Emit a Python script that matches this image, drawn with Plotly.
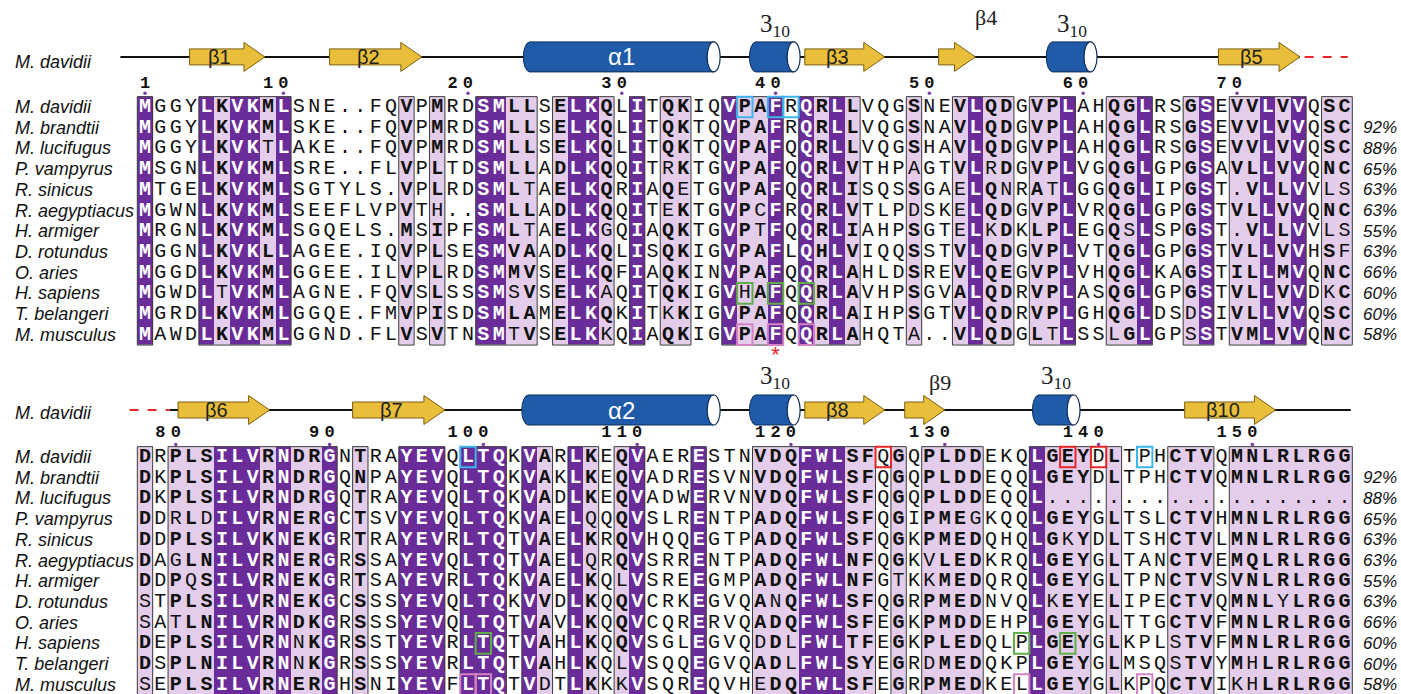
import plotly.graph_objects as go
from collections import Counter

# ---------------------------------------------------------------- data
species = ["M. davidii", "M. brandtii", "M. lucifugus", "P. vampyrus", "R. sinicus",
           "R. aegyptiacus", "H. armiger", "D. rotundus", "O. aries", "H. sapiens",
           "T. belangeri", "M. musculus"]
identity = ["", "92%", "88%", "65%", "63%", "63%", "55%", "63%", "66%", "60%", "60%", "58%"]

block1_seqs = [
    "MGGYLKVKMLSNE..FQVPMRD" + "SMLLSELKQLITQKIQVPAFRQRLLVQGS" + "NEVLQDGVPLAHQGLRSGSEVVLVVQSC",
    "MGGYLKVKMLSKE..FQVPMRD" + "SMLLSELKQLITQKTQVPAFRQRLLVQGS" + "NAVLQDGVPLAHQGLRSGSEVVLVVQSC",
    "MGGYLKVKTLAKE..FQVPMRD" + "SMLLSELKQLITQKTQVPAFQQRLLVQGS" + "HAVLQDGVPLAHQGLRSGSEVVLVVQSC",
    "MSGNLKVKMLSRE..FLVPLTD" + "SMLLADLKQQITRKTGVPAFQQRLVTHPA" + "GTVLRDGVPLVGQGLGPGSAVLLVVQNC",
    "MTGELKVKMLSGTYLS.VPLRD" + "SMLTAELKQRIAQETGVPAFQQRLISQSS" + "GAELQNRATLGGQGLIPGST.VLLVVLS",
    "MGWNLKVKMLSEEFLVPVTH.." + "SMLLADLKQQITEKTGVPCFRQRLVTLPD" + "SKELQDGVPLVRQGLGPGSTVLLVVQNC",
    "MRGNLKVKMLSGQELS.MSIPF" + "SMLTAELKGQIAQKTGVPTFQQRLIAHPS" + "GTELKDKLPLEGQSLSPGST.VLLVVLS",
    "MGGNLKVKLLAGEE.IQVPLSE" + "SMVAADLKQLISQKIGVPAFLQHLVIQQS" + "STVLQDGVPLVTQGLGPGSTVLLVVHSF",
    "MGGDLKVKMLGGEE.ILVPLRD" + "SMMVSELKQFIAQKINVPAFQQRLAHLDS" + "REVLQEGVPLVHQGLKAGSTILLMVQNC",
    "MGWDLTVKMLAGNE.FQVSLSS" + "SMSVSELKAQITQKIGVHAFQQRLAVHPS" + "GVALQDRVPLASQGLGPGSTVLLVVDKC",
    "MGRDLKVKMLGGQE.FMVPISD" + "SMLAMELKQKITKKIGVPAFQQRLAIHPS" + "GTVLQDRVPLGHQGLDSDSIVLLVVQSC",
    "MAWDLKVKMLGGND.FLVSVTN" + "SMTVSELKKQIAQKIGVPAFQQRLAHQTA" + "..VLQDGLTLSSLGLGPSSTVMLVVQNC",
]
block2_seqs = [
    "DRPLSILVRNDRGNTRAYEVQL" + "TQKVARLKEQVAERESTNVDQFWLSFQGQ" + "PLDDEKQLGEYDLTPHCTVQMNLRLRGG",
    "DKPLSILVRNDRGQNPAYEVQL" + "TQKVAKLKEQVADRESVNVDQFWLSFQGQ" + "PLDDEQQLGEYDLTPHCTVQMNLRLRGG",
    "DKPLSILVRNDRGQTRAYEVQL" + "TQKVADLKEQVADWERVNVDQFWLSFQGQ" + "PLDDEQQL....................",
    "DDRLDILVRNERGCTSVYEVQL" + "TQKVAELQQQVSLRENTPADQFWLSFQGI" + "PMEGKQQLGEYGLTSLCTVHMNLRLRGG",
    "DDPLSILVKNEKGRTRAYEVRL" + "TQTVAELKRQVHQQEGTPADQFWLSFQGK" + "PMEDQHQLGKYDLTSHCTVLMNLRLRGG",
    "DAGLNILVRNERGRSSAYEVQL" + "TQTVAELQRQVSRRENTPADQFWLNFQGK" + "VLEDKRQLGEYGLTANCTVEMQLRLRGG",
    "DDPQSILVRNEKGRTSAYEVRL" + "TQKVAELKQLVSREEGMPADQFWLNFGTK" + "KMEDQRQLGEYGLTPNCTVSVNLRLRGG",
    "STPLSILVRNEKGCSSSYEVQL" + "TQKVVDLKQQVCRKEGVQANQFWLSFQGR" + "PMEDNVQLKEYELIPECTVQMNLYLRGG",
    "SATLNILVRNDKGRSSSYEVQL" + "TQTVAVLKQQVCQRERVQADQFWLSFEGK" + "PMDDEHPLGEYGLTTGCTVFMNLRLRGG",
    "DEPLSILVRNNKGRSSTYEVRL" + "TQTVAHLKQQVSGLEGVQDDLFWLTFEGK" + "PLEDQLPLGEYGLKPLSTVFMNLRLRGG",
    "DSPLNILVRNNKGRSSSYEVRL" + "TQTVAHLKQLVSQQEGVQADLFWLSYEGR" + "DMEDQKPLGEYGLMSQSTVYMHLRLRGG",
    "SEPLSILVRNERGHSNIYEVFL" + "TQTVDTLKKKVSQREQVHEDQFWLSFEGR" + "PMEDKELLGEYGLKPQCTVIKHLRLRGG",
]
# column shading: d = strictly conserved, l = similar, w = not conserved
block1_types = ("dwwwdlddld" "wwwwwwwlwl" "wwddllwldd" "lwdwllwwdl"
                "ldwdldlwww" "lwwldllwll" "dwwlldwwld" "wlldldwll")
block2_types = ("lwllldddld" "lldwlwwddd" "wdddwdlwdl" "wldwwwdwww"
                "llldddllwl" "wllllwwwdl" "llwlwwwlll" "wllllllll")
block1_ticks = [1, 10, 20, 30, 40, 50, 60, 70]
block2_ticks = [80, 90, 100, 110, 120, 130, 140, 150]
# highlighted residues: (row, column, colour key)
block1_boxes = [(1, 40, "cyan"), (1, 42, "cyan"), (1, 43, "cyan"),
                (10, 40, "green"), (10, 42, "green"), (10, 44, "green"),
                (12, 40, "pink"), (12, 42, "pink"), (12, 44, "pink")]
block2_boxes = [(1, 22, "cyan"), (1, 49, "red"), (1, 61, "red"), (1, 63, "red"), (1, 66, "cyan"),
                (10, 23, "green"), (10, 58, "green"), (10, 61, "green"),
                (12, 22, "pink"), (12, 23, "pink"), (12, 58, "pink"), (12, 66, "pink")]
block1_stars = [42]
block2_stars = []
# secondary structure of M. davidii (in alignment-column units)
ss1 = dict(line=[(-0.6, 76.1)], dash=[(76.4, 79.2)],
           strands=[("β1", 3.9, 8.8), ("β2", 13.0, 19.0), ("β3", 43.9, 49.1), ("β5", 70.8, 76.1)],
           short=[("β4", 52.6, 55.0, 55.7, -3.30)],
           helix=[("α1", 25.6, 38.4)],
           h310=[(40.3, 43.6), (59.6, 62.9)])
ss2 = dict(line=[(2.6, 79.4)], dash=[(0.0, 2.6)],
           strands=[("β6", 3.15, 9.1), ("β7", 14.5, 20.5), ("β8", 43.9, 49.1), ("β10", 68.6, 74.5)],
           short=[("β9", 50.4, 53.0, 52.7, -2.62)],
           helix=[("α2", 25.5, 38.4)],
           h310=[(40.3, 43.6), (58.7, 61.8)])
sim_groups = ["ILMVA", "FYW", "KRH", "DE", "NQ", "STN"]

# ---------------------------------------------------------------- style / geometry
W, H = 1401, 694
COL_W = 15.38
COL0_PX = 129.61
ROW_H = 20.7
ROW1_PX = (107.0, 457.0)
SPLIT_PX = 368.0
SS_Y = (-1.42, -1.27)
SS_LABEL_Y = (-1.17, -1.13)
H310_LABEL_Y = (-2.96, -2.82)
NUM_Y = (-0.11, -0.16)
DOT_Y = (0.34, 0.40)
LABEL_X = (13 - COL0_PX) / COL_W
PCT_X = (1361 - COL0_PX) / COL_W

DARK = "#6a2c98"
LIGHT = "#e3cdea"
FRAME = "#3c3c3c"
GOLD = "#e9be3b"
GOLD_LINE = "#7a6010"
BLUE = "#1f5ba8"
BLUE_LINE = "#0d2c58"
BOXC = {"cyan": "#3db5ea", "green": "#5fae48", "pink": "#d382c6", "red": "#e8262a"}
MONO = "Liberation Mono, Courier New, monospace"
SANS = "Liberation Sans, Arial, sans-serif"
SERIF = "Liberation Serif, Times New Roman, serif"
LEVEL = {"w": 0, "l": 1, "d": 2}

fig = go.Figure()


def similar(a, b):
    return a == b or any(a in g and b in g for g in sim_groups)


def yv(b, px):
    return 1 + (px - ROW1_PX[b]) / ROW_H


def draw_block(b, seqs, types, res_start, ticks, boxes, stars):
    xa, ya = ("x", "y") if b == 0 else ("x2", "y2")
    nrow, ncol = len(seqs), len(types)
    seqs = [(s + "." * ncol)[:ncol] for s in seqs]
    cols = list(range(1, ncol + 1))
    rows = list(range(1, nrow + 1))
    z = [[LEVEL[t] for t in types] for _ in seqs]
    fig.add_trace(go.Heatmap(x=cols, y=rows, z=z, zmin=0, zmax=2,
                             colorscale=[[0, "#ffffff"], [0.5, LIGHT], [1, DARK]],
                             showscale=False, hoverinfo="skip", xaxis=xa, yaxis=ya))
    # frames around conserved stretches
    c = 0
    while c < ncol:
        if types[c] != "w":
            s = c
            while c < ncol and types[c] != "w":
                c += 1
            fig.add_shape(type="rect", xref=xa, yref=ya, x0=s + 0.5, x1=c + 0.5,
                          y0=0.5, y1=nrow + 0.5, line=dict(color=FRAME, width=1))
        else:
            c += 1
    # letters
    grp = {"wb": ([], [], []), "kb": ([], [], []), "kn": ([], [], [])}
    for ci in range(ncol):
        col = [s[ci] for s in seqs]
        cnt = Counter(ch for ch in col if ch != ".")
        cons = cnt.most_common(1)[0][0] if cnt else "."
        for ri, ch in enumerate(col):
            t = types[ci]
            if t == "d":
                k = "wb"
            elif t == "l" and ch != "." and similar(ch, cons):
                k = "kb"
            else:
                k = "kn"
            grp[k][0].append(ci + 1)
            grp[k][1].append(ri + 1)
            grp[k][2].append(ch)
    for k, (xs, ys, ts) in grp.items():
        fig.add_trace(go.Scatter(
            x=xs, y=ys, text=ts, mode="text", hoverinfo="skip", showlegend=False,
            textfont=dict(family=MONO, size=20, color="#ffffff" if k == "wb" else "#111111",
                          weight="bold" if k in ("wb", "kb") else "normal"),
            xaxis=xa, yaxis=ya))
    # numbering
    resno = {}
    n = res_start
    for ci, ch in enumerate(seqs[0]):
        if ch != ".":
            resno[n] = ci + 1
            n += 1
    dx, dy, dt = [], [], []
    for t in ticks:
        cc = resno[t]
        s = str(t)
        for i, d in enumerate(s):
            dx.append(cc - (len(s) - 1 - i))
            dy.append(NUM_Y[b])
            dt.append(d)
    fig.add_trace(go.Scatter(x=dx, y=dy, text=dt, mode="text", hoverinfo="skip", showlegend=False,
                             textfont=dict(family=MONO, size=17, color="#111111", weight="bold"),
                             xaxis=xa, yaxis=ya))
    fig.add_trace(go.Scatter(x=[resno[t] for t in ticks], y=[DOT_Y[b]] * len(ticks), mode="markers",
                             marker=dict(size=3.5, color="#7b3fa3"), hoverinfo="skip",
                             showlegend=False, xaxis=xa, yaxis=ya))
    # highlighted residues
    for r, c, key in boxes:
        fig.add_shape(type="rect", xref=xa, yref=ya, x0=c - 0.5, x1=c + 0.5, y0=r - 0.5, y1=r + 0.5,
                      line=dict(color=BOXC[key], width=2))
    if stars:
        fig.add_trace(go.Scatter(x=stars, y=[nrow + 1.05] * len(stars), text=["*"] * len(stars),
                                 mode="text", hoverinfo="skip", showlegend=False,
                                 textfont=dict(family=SANS, size=22, color="#e8262a"),
                                 xaxis=xa, yaxis=ya))
    # row labels and identities
    for i, (sp, pc) in enumerate(zip(species, identity)):
        fig.add_annotation(x=LABEL_X, y=i + 1, xref=xa, yref=ya, text="<i>%s</i>" % sp,
                           showarrow=False, xanchor="left", yanchor="middle",
                           font=dict(family=SANS, size=18, color="#111111"))
        if pc:
            fig.add_annotation(x=PCT_X, y=i + 1, xref=xa, yref=ya, text="<i>%s</i>" % pc,
                               showarrow=False, xanchor="left", yanchor="middle",
                               font=dict(family=SANS, size=17, color="#111111"))
    return n


def arrow_path(x0, x1, yc):
    hb, hh, L = 8.0 / ROW_H, 14.5 / ROW_H, 21.0 / COL_W
    xh = x1 - L
    pts = [(x0, yc - hb), (xh, yc - hb), (xh, yc - hh), (x1, yc), (xh, yc + hh), (xh, yc + hb), (x0, yc + hb)]
    return "M " + " L ".join("%.4f,%.4f" % p for p in pts) + " Z"


def cylinder(xa, ya, x0, x1, yc):
    hh = 15.0 / ROW_H
    w = 6.5 / COL_W
    fig.add_shape(type="circle", xref=xa, yref=ya, x0=x0, x1=x0 + 2 * w, y0=yc - hh, y1=yc + hh,
                  fillcolor=BLUE, line=dict(color=BLUE_LINE, width=1))
    fig.add_shape(type="rect", xref=xa, yref=ya, x0=x0 + w, x1=x1 - w, y0=yc - hh, y1=yc + hh,
                  fillcolor=BLUE, line=dict(width=0))
    fig.add_shape(type="line", xref=xa, yref=ya, x0=x0 + w, x1=x1 - w, y0=yc - hh, y1=yc - hh,
                  line=dict(color=BLUE_LINE, width=1))
    fig.add_shape(type="line", xref=xa, yref=ya, x0=x0 + w, x1=x1 - w, y0=yc + hh, y1=yc + hh,
                  line=dict(color=BLUE_LINE, width=1))
    fig.add_shape(type="circle", xref=xa, yref=ya, x0=x1 - 2 * w, x1=x1, y0=yc - hh, y1=yc + hh,
                  fillcolor="#ffffff", line=dict(color=BLUE_LINE, width=1.2))


def draw_ss(b, ss):
    xa, ya = ("x", "y") if b == 0 else ("x2", "y2")
    yc = SS_Y[b]
    for x0, x1 in ss["line"]:
        fig.add_shape(type="line", xref=xa, yref=ya, x0=x0, x1=x1, y0=yc, y1=yc,
                      line=dict(color="#111111", width=2))
    for x0, x1 in ss["dash"]:
        fig.add_shape(type="line", xref=xa, yref=ya, x0=x0, x1=x1, y0=yc, y1=yc,
                      line=dict(color="#e8262a", width=2, dash="dash"))
    for name, x0, x1 in ss["strands"]:
        fig.add_shape(type="path", xref=xa, yref=ya, path=arrow_path(x0, x1, yc),
                      fillcolor=GOLD, line=dict(color=GOLD_LINE, width=1))
        fig.add_annotation(x=(x0 + x1 - 21.0 / COL_W) / 2 + 0.2, y=yc, xref=xa, yref=ya, text=name,
                           showarrow=False, font=dict(family=SANS, size=20, color="#222222"))
    for name, x0, x1, lx, ly in ss["short"]:
        fig.add_shape(type="path", xref=xa, yref=ya, path=arrow_path(x0, x1, yc),
                      fillcolor=GOLD, line=dict(color=GOLD_LINE, width=1))
        fig.add_annotation(x=lx, y=ly, xref=xa, yref=ya, text=name, showarrow=False,
                           font=dict(family=SERIF, size=22, color="#222222"))
    for name, x0, x1 in ss["helix"]:
        cylinder(xa, ya, x0, x1, yc)
        fig.add_annotation(x=(x0 + x1) / 2, y=yc, xref=xa, yref=ya, text=name, showarrow=False,
                           font=dict(family=SANS, size=24, color="#ffffff"))
    for x0, x1 in ss["h310"]:
        cylinder(xa, ya, x0, x1, yc)
        fig.add_annotation(x=(x0 + x1) / 2, y=H310_LABEL_Y[b], xref=xa, yref=ya,
                           text="3<sub>10</sub>", showarrow=False,
                           font=dict(family=SERIF, size=25, color="#222222"))
    fig.add_annotation(x=LABEL_X, y=SS_LABEL_Y[b], xref=xa, yref=ya, text="<i>M. davidii</i>",
                       showarrow=False, xanchor="left", yanchor="middle",
                       font=dict(family=SANS, size=18, color="#111111"))


draw_ss(0, ss1)
draw_ss(1, ss2)
next_res = draw_block(0, block1_seqs, block1_types, 1, block1_ticks, block1_boxes, block1_stars)
draw_block(1, block2_seqs, block2_types, next_res, block2_ticks, block2_boxes, block2_stars)

xr = [(0 - COL0_PX) / COL_W, (W - COL0_PX) / COL_W]
split = 1 - SPLIT_PX / H
ax = dict(visible=False, showgrid=False, zeroline=False, fixedrange=True)
fig.update_layout(
    width=W, height=H, margin=dict(l=0, r=0, t=0, b=0),
    paper_bgcolor="#ffffff", plot_bgcolor="#ffffff", showlegend=False,
    xaxis=dict(ax, domain=[0, 1], range=xr, anchor="y"),
    yaxis=dict(ax, domain=[split, 1], range=[yv(0, SPLIT_PX), yv(0, 0)], anchor="x"),
    xaxis2=dict(ax, domain=[0, 1], range=xr, anchor="y2"),
    yaxis2=dict(ax, domain=[0, split], range=[yv(1, H), yv(1, SPLIT_PX)], anchor="x2"),
)
fig.write_html("out.html", config={"displayModeBar": False},
               post_script="document.body.style.margin='0';document.body.style.overflow='hidden';")
